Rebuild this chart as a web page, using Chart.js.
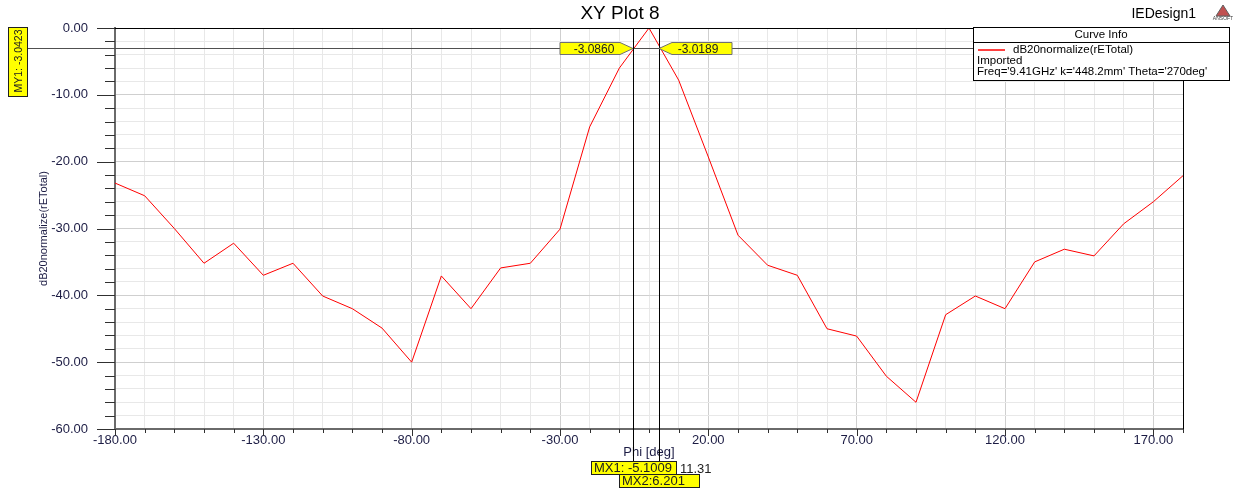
<!DOCTYPE html>
<html>
<head>
<meta charset="utf-8">
<title>XY Plot 8</title>
<script src="https://cdn.jsdelivr.net/npm/chart.js@4.4.1/dist/chart.umd.min.js"></script>
<style>
  html, body { margin: 0; padding: 0; background: #ffffff; }
  #Plot__Canvas { display: block; }
</style>
</head>
<body>
<canvas id="Plot__Canvas" width="1236" height="490"></canvas>
<script>
/* Phi angle of every sample (deg) */
const PhiDeg = [-180, -170, -160, -150, -140, -130, -120, -110, -100, -90, -80, -70, -60, -50, -40, -30, -20, -10, 0,
  10, 20, 30, 40, 50, 60, 70, 80, 90, 100, 110, 120, 130, 140, 150, 160, 170, 180];
/* dB20normalize(rETotal) */
const GainDb = [-23.2, -25.1, -30.0, -35.2, -32.2, -37.0, -35.2, -40.1, -42.0, -44.9, -50.0, -37.1, -42.0, -35.9, -35.2, -30.1, -14.8, -6.0, 0.0,
  -7.8, -19.3, -31.0, -35.5, -37.0, -45.0, -46.1, -52.1, -56.0, -42.9, -40.1, -42.0, -35.0, -33.1, -34.1, -29.3, -26.0, -22.1];
/* Labelled ticks */
const XMajorTicks = [-180, -130, -80, -30, 20, 70, 120, 170];
const YMajorTicks = [0, -10, -20, -30, -40, -50, -60];

/* Markers (phi where the lines sit in the picture) */
const MarkerPhi = [-5.3, 3.4];
const MarkerNames = ["MX1: -5.1009", "MX2:6.201"];
const MarkerValues = ["-3.0860", "-3.0189"];
const MarkerDelta = "11.31";
const MarkerY = -3.0423;
const MarkerYName = "MY1: -3.0423";

/* Texts */
const PlotTitle = "XY Plot 8";
const DesignName = "IEDesign1";
const XTitle = "Phi [deg]";
const YTitle = "dB20normalize(rETotal)";
const LegendLines = ["dB20normalize(rETotal)", "Imported", "Freq='9.41GHz' k='448.2mm' Theta='270deg'"];

const FontFamily = "'Liberation Sans', Arial, sans-serif";
const TickColor = "#1c1c44";

const PlotCanvas = document.getElementById("Plot__Canvas");

/* draws a yellow value box with an arrow pointing at the marker */
function DrawArrowBox(ctx, tipX, y, dir, text) {
  const h = 12, arrow = 13, w = 60;
  ctx.beginPath();
  if (dir < 0) {
    /* box sits left of the tip */
    ctx.moveTo(tipX, y);
    ctx.lineTo(tipX - arrow, y - h / 2);
    ctx.lineTo(tipX - arrow - w, y - h / 2);
    ctx.lineTo(tipX - arrow - w, y + h / 2);
    ctx.lineTo(tipX - arrow, y + h / 2);
  } else {
    ctx.moveTo(tipX, y);
    ctx.lineTo(tipX + arrow, y - h / 2);
    ctx.lineTo(tipX + arrow + w, y - h / 2);
    ctx.lineTo(tipX + arrow + w, y + h / 2);
    ctx.lineTo(tipX + arrow, y + h / 2);
  }
  ctx.closePath();
  ctx.fillStyle = "#ffff00";
  ctx.fill();
  ctx.strokeStyle = "#707070";
  ctx.lineWidth = 1;
  ctx.stroke();
  ctx.fillStyle = "#202020";
  ctx.font = "12px " + FontFamily;
  ctx.textBaseline = "middle";
  ctx.textAlign = "center";
  const cx = dir < 0 ? tipX - arrow - w / 2 + 4 : tipX + arrow + w / 2 - 4;
  ctx.fillText(text, cx, y + 1);
}

/* yellow rectangle label with black border */
function DrawYellowLabel(ctx, x, y, w, h, text) {
  ctx.fillStyle = "#ffff00";
  ctx.fillRect(x, y, w, h);
  ctx.strokeStyle = "#202020";
  ctx.lineWidth = 1;
  ctx.strokeRect(x + 0.5, y + 0.5, w, h);
  ctx.fillStyle = "#202020";
  ctx.font = "13px " + FontFamily;
  ctx.textAlign = "left";
  ctx.textBaseline = "middle";
  ctx.fillText(text, x + 3, y + h / 2 + 1);
}

/* Plugin for everything HFSS draws around the curve */
const OverlayPlugin = {
  id: "overlay",
  beforeDraw(chart) {
    const ctx = chart.ctx;
    ctx.save();
    ctx.fillStyle = "#ffffff";
    ctx.fillRect(0, 0, chart.width, chart.height);
    ctx.restore();
  },
  afterDraw(chart) {
    const ctx = chart.ctx;
    const area = chart.chartArea;
    const xs = chart.scales.x;
    const ys = chart.scales.y;
    ctx.save();

    /* tick marks */
    ctx.strokeStyle = "#303030";
    ctx.lineWidth = 1;
    ys.ticks.forEach(t => {
      const py = Math.round(ys.getPixelForValue(t.value)) + 0.5;
      const len = YMajorTicks.includes(t.value) ? 18 : 10;
      ctx.beginPath();
      ctx.moveTo(area.left - len, py);
      ctx.lineTo(area.left, py);
      ctx.stroke();
    });
    xs.ticks.forEach(t => {
      const px = Math.round(xs.getPixelForValue(t.value)) + 0.5;
      const len = XMajorTicks.includes(t.value) ? 7 : 4;
      ctx.beginPath();
      ctx.moveTo(px, area.bottom);
      ctx.lineTo(px, area.bottom + len);
      ctx.stroke();
    });

    /* top and right frame */
    ctx.strokeStyle = "#000000";
    ctx.beginPath();
    ctx.moveTo(area.left, Math.round(area.top) + 0.5);
    ctx.lineTo(area.right, Math.round(area.top) + 0.5);
    ctx.moveTo(Math.round(area.right) + 0.5, area.top);
    ctx.lineTo(Math.round(area.right) + 0.5, area.bottom);
    ctx.stroke();

    /* title texts */
    ctx.fillStyle = "#000000";
    ctx.textAlign = "center";
    ctx.textBaseline = "middle";
    ctx.font = "19px " + FontFamily;
    ctx.fillText(PlotTitle, 620, 14);
    ctx.font = "14px " + FontFamily;
    ctx.textAlign = "right";
    ctx.fillText(DesignName, 1196, 14);

    /* small Ansoft logo */
    ctx.beginPath();
    ctx.moveTo(1223, 5);
    ctx.lineTo(1230, 16);
    ctx.lineTo(1216, 16);
    ctx.closePath();
    ctx.fillStyle = "#c05050";
    ctx.fill();
    ctx.strokeStyle = "#606060";
    ctx.stroke();
    ctx.fillStyle = "#404040";
    ctx.font = "5px " + FontFamily;
    ctx.textAlign = "center";
    ctx.fillText("ANSOFT", 1223, 19);

    /* axis titles */
    ctx.fillStyle = TickColor;
    ctx.font = "13px " + FontFamily;
    ctx.textAlign = "center";
    ctx.fillText(XTitle, (area.left + area.right) / 2, 452);
    ctx.save();
    ctx.translate(44, (area.top + area.bottom) / 2);
    ctx.rotate(-Math.PI / 2);
    ctx.font = "11px " + FontFamily;
    ctx.fillText(YTitle, 0, 0);
    ctx.restore();

    /* horizontal marker */
    const my = Math.round(ys.getPixelForValue(MarkerY)) + 0.5;
    ctx.strokeStyle = "#505050";
    ctx.beginPath();
    ctx.moveTo(27, my);
    ctx.lineTo(area.right, my);
    ctx.stroke();
    ctx.fillStyle = "#ffff00";
    ctx.fillRect(8, 27, 19, 69);
    ctx.strokeStyle = "#202020";
    ctx.strokeRect(8.5, 27.5, 19, 69);
    ctx.save();
    ctx.translate(18, 61);
    ctx.rotate(-Math.PI / 2);
    ctx.fillStyle = "#202020";
    ctx.font = "10.5px " + FontFamily;
    ctx.textAlign = "center";
    ctx.textBaseline = "middle";
    ctx.fillText(MarkerYName, 0, 1);
    ctx.restore();

    /* vertical markers */
    const labelTops = [461, 474];
    const labelLeft = [-42, -40];
    const labelWidth = [85, 80];
    MarkerPhi.forEach((phi, i) => {
      const px = Math.round(xs.getPixelForValue(phi)) + 0.5;
      ctx.strokeStyle = "#000000";
      ctx.beginPath();
      ctx.moveTo(px, area.top);
      ctx.lineTo(px, labelTops[i]);
      ctx.stroke();
    });
    MarkerPhi.forEach((phi, i) => {
      const px = Math.round(xs.getPixelForValue(phi));
      DrawYellowLabel(ctx, px + labelLeft[i], labelTops[i], labelWidth[i], 13, MarkerNames[i]);
      DrawArrowBox(ctx, px, my, i == 0 ? -1 : 1, MarkerValues[i]);
    });
    const px0 = Math.round(xs.getPixelForValue(MarkerPhi[0]));
    ctx.fillStyle = "#202020";
    ctx.font = "13px " + FontFamily;
    ctx.textAlign = "left";
    ctx.textBaseline = "middle";
    ctx.fillText(MarkerDelta, px0 + 47, 469);

    /* Curve Info legend */
    const lx = 973, ly = 27, lw = 256, lh = 53;
    ctx.fillStyle = "#ffffff";
    ctx.fillRect(lx, ly, lw, lh);
    ctx.strokeStyle = "#000000";
    ctx.strokeRect(lx + 0.5, ly + 0.5, lw, lh);
    ctx.beginPath();
    ctx.moveTo(lx, ly + 15.5);
    ctx.lineTo(lx + lw, ly + 15.5);
    ctx.stroke();
    ctx.fillStyle = "#000000";
    ctx.font = "11.5px " + FontFamily;
    ctx.textAlign = "center";
    ctx.fillText("Curve Info", lx + lw / 2, ly + 8);
    ctx.strokeStyle = "#ff0000";
    ctx.lineWidth = 1.5;
    ctx.beginPath();
    ctx.moveTo(978, 50);
    ctx.lineTo(1005, 50);
    ctx.stroke();
    ctx.textAlign = "left";
    ctx.fillText(LegendLines[0], 1013, 50);
    ctx.fillText(LegendLines[1], 977, 61);
    ctx.fillText(LegendLines[2], 977, 72);

    ctx.restore();
  }
};

const PlotChart = new Chart(PlotCanvas, {
  type: "line",
  plugins: [OverlayPlugin],
  data: {
    datasets: [
      {
        label: LegendLines[0],
        data: PhiDeg.map((phi, i) => ({ x: phi, y: GainDb[i] })),
        borderColor: "#ff0000",
        borderWidth: 1,
        pointRadius: 0,
        tension: 0,
        fill: false
      }
    ]
  },
  options: {
    responsive: false,
    animation: false,
    layout: { padding: { left: 0, top: 28, right: 53, bottom: 0 } },
    scales: {
      x: {
        type: "linear",
        min: -180,
        max: 180,
        afterFit(scale) { scale.height = 61; },
        ticks: {
          stepSize: 10,
          autoSkip: false,
          maxRotation: 0,
          padding: 4,
          color: TickColor,
          font: { family: FontFamily, size: 13 },
          callback: v => XMajorTicks.includes(v) ? v.toFixed(2) : ""
        },
        grid: {
          drawTicks: false,
          color: c => (c.tick && XMajorTicks.includes(c.tick.value)) ? "#cfcfcf" : "#e8e8e8"
        },
        border: { color: "#6a6a6a", width: 2 }
      },
      y: {
        min: -60,
        max: 0,
        afterFit(scale) { scale.width = 115; },
        ticks: {
          stepSize: 2,
          autoSkip: false,
          padding: 0,
          color: TickColor,
          font: { family: FontFamily, size: 13 },
          callback: v => YMajorTicks.includes(v) ? v.toFixed(2) : ""
        },
        grid: {
          /* invisible ticks only push the labels away from the axis */
          drawTicks: true,
          tickLength: 27,
          tickColor: "rgba(0,0,0,0)",
          color: c => (c.tick && YMajorTicks.includes(c.tick.value)) ? "#cfcfcf" : "#e8e8e8"
        },
        border: { color: "#6a6a6a", width: 2 }
      }
    },
    plugins: {
      legend: { display: false },
      tooltip: { enabled: false },
      title: { display: false }
    }
  }
});
</script>
</body>
</html>
